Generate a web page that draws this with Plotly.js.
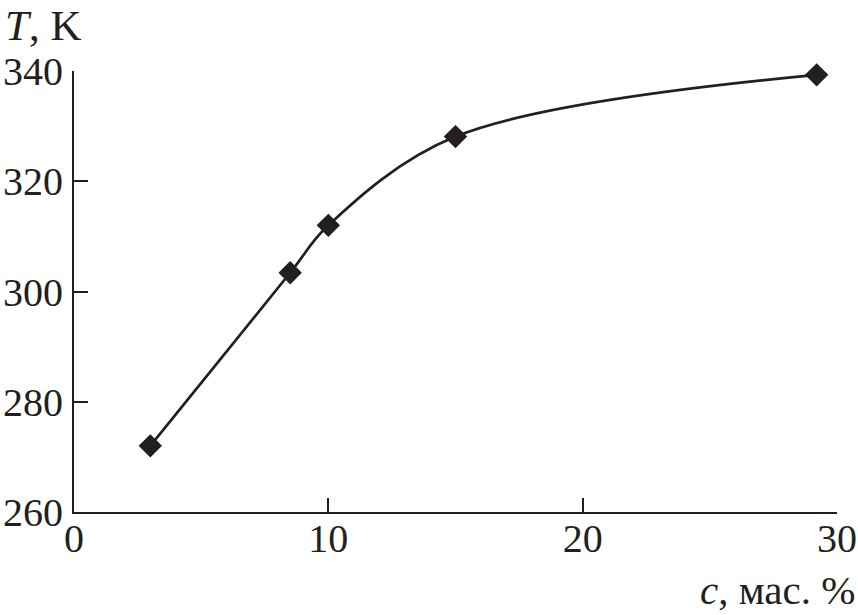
<!DOCTYPE html>
<html>
<head>
<meta charset="utf-8">
<script src="https://cdn.plot.ly/plotly-3.0.1.min.js"></script>
<style>html,body{margin:0;padding:0;background:#fff;}#chart{width:858px;height:615px;}</style>
</head>
<body>
<div id="chart"></div>
<script>
// Data
const concentration = [3, 8.5, 10, 15, 29.2];      // c, mass %
const temperature = [272, 303.4, 312, 328.1, 339.3]; // T, K
const xTicks = [0, 10, 20, 30];
const yTicks = [260, 280, 300, 320, 340];

const W = 858, H = 615;
const M = {l: 74, r: 21, t: 71, b: 103};
const pw = W - M.l - M.r, ph = H - M.t - M.b;
const px = x => (x - M.l) / pw;
const py = y => 1 - (y - M.t) / ph;

const ink = '#231f20';
const font = 'Liberation Serif, Times New Roman, serif';

const trace = {
  x: concentration, y: temperature,
  mode: 'lines+markers', type: 'scatter',
  line: {color: ink, width: 2.7, shape: 'spline', smoothing: 1},
  marker: {symbol: 'diamond', size: 18, color: ink},
  cliponaxis: false, hoverinfo: 'skip'
};

const axisCommon = {
  showgrid: false, zeroline: false, showline: true, linecolor: ink, linewidth: 2,
  ticks: 'inside', ticklen: 14, tickwidth: 2, tickcolor: ink,
  tickfont: {family: font, size: 40, color: ink}, fixedrange: true
};

const layout = {
  width: W, height: H,
  margin: M,
  paper_bgcolor: '#fff', plot_bgcolor: '#fff',
  showlegend: false,
  xaxis: Object.assign({}, axisCommon, {range: [0, 30], tickvals: xTicks, ticktext: xTicks.map(String), ticklabelstandoff: -10}),
  yaxis: Object.assign({}, axisCommon, {range: [260, 340], tickvals: yTicks, ticktext: yTicks.map(String), ticklabelstandoff: 1}),
  annotations: [
    {text: '<i>T</i>, K', xref: 'paper', yref: 'paper', x: px(3), y: py(0),
     xanchor: 'left', yanchor: 'top', showarrow: false,
     font: {family: font, size: 43, color: ink}},
    {text: '<i>c</i>, мас. %', xref: 'paper', yref: 'paper', x: px(857), y: py(590),
     xanchor: 'right', yanchor: 'middle', showarrow: false,
     font: {family: font, size: 41, color: ink}}
  ]
};

Plotly.newPlot('chart', [trace], layout, {staticPlot: true});
</script>
</body>
</html>
